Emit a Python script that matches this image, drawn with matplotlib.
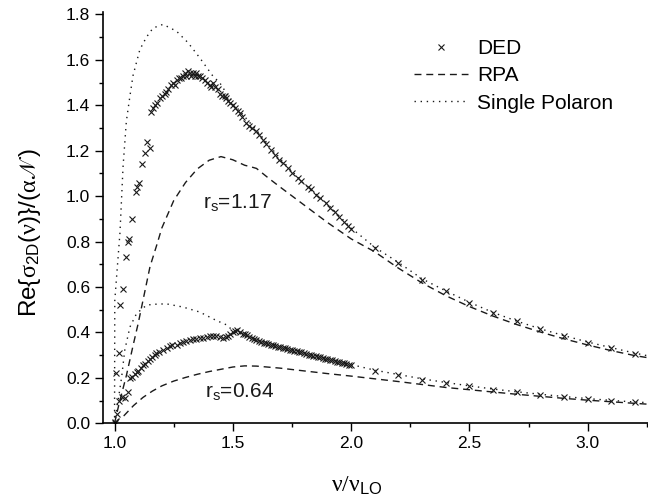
import matplotlib
matplotlib.use("Agg")
from matplotlib import pyplot as plt
from matplotlib.ticker import MultipleLocator
from matplotlib.lines import Line2D

plt.rcParams["font.family"] = ["Liberation Sans", "DejaVu Sans"]
# serif (Times-like) greek letters, sans for the rest, STIX as fallback for the script N
plt.rcParams["mathtext.fontset"] = "custom"
plt.rcParams["mathtext.rm"] = "Liberation Serif"
plt.rcParams["mathtext.it"] = "Liberation Serif:italic"
plt.rcParams["mathtext.bf"] = "Liberation Serif:bold"
plt.rcParams["mathtext.sf"] = "Liberation Sans"
plt.rcParams["mathtext.fallback"] = "stix"

# ---- DED, r_s = 1.17 ----
ded_hi_x = [1.000, 1.008, 1.018, 1.025, 1.036, 1.048, 1.057, 1.060, 1.072, 1.090, 1.095, 1.104,
            1.118, 1.128, 1.139, 1.149, 1.156, 1.163, 1.170, 1.180, 1.191, 1.200, 1.212, 1.219,
            1.226, 1.240, 1.247, 1.255, 1.262, 1.272, 1.283, 1.290, 1.297, 1.304, 1.311, 1.318,
            1.325, 1.332, 1.339, 1.346, 1.353, 1.360, 1.370, 1.381, 1.391, 1.402, 1.409, 1.416,
            1.426, 1.437, 1.447, 1.455, 1.465, 1.473, 1.480, 1.490, 1.500, 1.510, 1.520, 1.529,
            1.540, 1.557, 1.570, 1.580, 1.599, 1.610, 1.627, 1.640, 1.662, 1.680, 1.697, 1.710,
            1.733, 1.750, 1.775, 1.790, 1.817, 1.830, 1.852, 1.870, 1.895, 1.910, 1.930, 1.950,
            1.972, 1.985, 2.000, 2.100, 2.200, 2.300, 2.400, 2.500, 2.600, 2.700, 2.800, 2.900,
            3.000, 3.100, 3.200]
ded_hi_y = [0.00, 0.22, 0.31, 0.52, 0.59, 0.73, 0.80, 0.81, 0.90, 1.02, 1.04, 1.06,
            1.14, 1.19, 1.24, 1.21, 1.37, 1.39, 1.40, 1.41, 1.43, 1.44, 1.45, 1.46,
            1.47, 1.49, 1.50, 1.49, 1.51, 1.52, 1.52, 1.53, 1.54, 1.53, 1.55, 1.54,
            1.53, 1.54, 1.53, 1.54, 1.53, 1.53, 1.52, 1.51, 1.50, 1.49, 1.48, 1.50,
            1.48, 1.47, 1.45, 1.44, 1.44, 1.43, 1.42, 1.41, 1.40, 1.39, 1.375, 1.366,
            1.35, 1.322, 1.31, 1.30, 1.285, 1.27, 1.248, 1.23, 1.204, 1.18, 1.16, 1.145,
            1.123, 1.10, 1.079, 1.065, 1.042, 1.03, 1.005, 0.99, 0.969, 0.95, 0.932, 0.91,
            0.887, 0.87, 0.854, 0.770, 0.706, 0.630, 0.581, 0.531, 0.486, 0.449, 0.414, 0.384,
            0.355, 0.331, 0.306]

# ---- DED, r_s = 0.64 ----
ded_lo_x = [1.000, 1.011, 1.018, 1.030, 1.043, 1.057, 1.065, 1.075, 1.085, 1.093, 1.100, 1.110,
            1.121, 1.130, 1.140, 1.149, 1.160, 1.170, 1.177, 1.190, 1.205, 1.220, 1.233, 1.245,
            1.262, 1.275, 1.289, 1.300, 1.318, 1.330, 1.346, 1.360, 1.374, 1.390, 1.402, 1.415,
            1.430, 1.445, 1.458, 1.470, 1.479, 1.490, 1.500, 1.510, 1.517, 1.530, 1.543,
            1.55, 1.56, 1.57, 1.58, 1.59, 1.60, 1.61, 1.62, 1.63, 1.64, 1.65, 1.66, 1.67, 1.68,
            1.69, 1.70, 1.71, 1.72, 1.73, 1.74, 1.75, 1.76, 1.77, 1.78, 1.79, 1.80, 1.81, 1.82,
            1.83, 1.84, 1.85, 1.86, 1.87, 1.88, 1.89, 1.90, 1.91, 1.92, 1.93, 1.94, 1.95, 1.96,
            1.97, 1.98, 1.99, 2.00,
            2.10, 2.20, 2.30, 2.40, 2.50, 2.60, 2.70, 2.80, 2.90, 3.00, 3.10, 3.20]
ded_lo_y = [0.004, 0.041, 0.100, 0.118, 0.112, 0.137, 0.200, 0.205, 0.218, 0.225, 0.230, 0.243,
            0.255, 0.262, 0.275, 0.284, 0.292, 0.303, 0.309, 0.316, 0.324, 0.333, 0.340, 0.345,
            0.343, 0.352, 0.358, 0.362, 0.368, 0.371, 0.373, 0.376, 0.377, 0.381, 0.383, 0.386,
            0.383, 0.381, 0.377, 0.380, 0.384, 0.394, 0.402, 0.407, 0.409, 0.403, 0.395,
            0.392, 0.387, 0.381, 0.376, 0.371, 0.367, 0.363, 0.359, 0.355, 0.352, 0.349, 0.346,
            0.343, 0.340, 0.337, 0.335, 0.332, 0.330, 0.327, 0.325, 0.322, 0.319, 0.317, 0.314,
            0.312, 0.309, 0.306, 0.303, 0.301, 0.298, 0.295, 0.293, 0.290, 0.288, 0.285, 0.282,
            0.280, 0.277, 0.274, 0.272, 0.269, 0.267, 0.264, 0.262, 0.259, 0.256,
            0.230, 0.214, 0.193, 0.178, 0.163, 0.147, 0.137, 0.125, 0.115, 0.108, 0.100, 0.093]

# ---- RPA ----
rpa_hi_x = [1.0, 1.02, 1.05, 1.08, 1.10, 1.12, 1.15, 1.18, 1.20, 1.25, 1.30, 1.35, 1.40, 1.45,
            1.50, 1.55, 1.58, 1.60, 1.65, 1.70, 1.80, 1.90, 2.00, 2.10, 2.20, 2.30, 2.40, 2.50,
            2.60, 2.70, 2.80, 2.90, 3.00, 3.10, 3.20, 3.26]
rpa_hi_y = [0.0, 0.09, 0.21, 0.35, 0.44, 0.54, 0.69, 0.79, 0.86, 0.98, 1.06, 1.12, 1.158, 1.174,
            1.16, 1.136, 1.128, 1.122, 1.08, 1.04, 0.962, 0.884, 0.812, 0.755, 0.683, 0.618, 0.562,
            0.514, 0.472, 0.435, 0.402, 0.372, 0.345, 0.320, 0.298, 0.288]

rpa_lo_x = [1.0, 1.02, 1.04, 1.08, 1.12, 1.16, 1.20, 1.25, 1.30, 1.35, 1.40, 1.45, 1.50, 1.55,
            1.60, 1.70, 1.80, 1.90, 2.00, 2.10, 2.20, 2.30, 2.40, 2.50, 2.60, 2.70, 2.80, 2.90,
            3.00, 3.10, 3.20, 3.26]
rpa_lo_y = [0.0, 0.02, 0.034, 0.078, 0.114, 0.142, 0.165, 0.186, 0.202, 0.216, 0.228, 0.238,
            0.248, 0.253, 0.252, 0.243, 0.231, 0.219, 0.208, 0.196, 0.184, 0.171, 0.158, 0.148,
            0.138, 0.128, 0.119, 0.110, 0.102, 0.095, 0.088, 0.084]

# ---- Single polaron ----
sp_hi_x = [1.0, 1.001, 1.023, 1.036, 1.05, 1.065, 1.078, 1.107, 1.135, 1.163, 1.205, 1.262,
           1.311, 1.36, 1.416, 1.444, 1.50, 1.60, 1.70, 1.80, 1.90, 2.00, 2.10, 2.20, 2.30,
           2.40, 2.50, 2.60, 2.70, 2.80, 2.90, 3.00, 3.10, 3.20, 3.26]
sp_hi_y = [0.0, 0.54, 0.84, 1.13, 1.33, 1.44, 1.53, 1.645, 1.70, 1.74, 1.756, 1.726,
           1.675, 1.609, 1.528, 1.50, 1.41, 1.29, 1.165, 1.055, 0.965, 0.86, 0.775, 0.708, 0.636,
           0.583, 0.533, 0.488, 0.450, 0.416, 0.386, 0.358, 0.333, 0.309, 0.296]

sp_lo_x = [1.0, 1.015, 1.03, 1.043, 1.065, 1.093, 1.135, 1.163, 1.219, 1.289, 1.36, 1.43,
           1.479, 1.50, 1.60, 1.70, 1.80, 1.90, 2.00, 2.10, 2.20, 2.30, 2.40, 2.50, 2.60,
           2.70, 2.80, 2.90, 3.00, 3.10, 3.20, 3.26]
sp_lo_y = [0.0, 0.10, 0.203, 0.321, 0.424, 0.483, 0.52, 0.524, 0.526, 0.512, 0.49, 0.453,
           0.431, 0.405, 0.372, 0.340, 0.311, 0.285, 0.259, 0.234, 0.215, 0.196, 0.180, 0.165,
           0.151, 0.139, 0.128, 0.118, 0.109, 0.101, 0.094, 0.091]

ink = "#1a1a1a"
dash = (0, (5, 3.5))
dot = (0, (1, 3.4))

fig = plt.figure(figsize=(6.48, 5.04), dpi=100)
ax = fig.add_axes([0.1585, 0.16, 0.8415, 0.816])

ax.plot(sp_hi_x, sp_hi_y, color=ink, lw=1.0, linestyle=dot)
ax.plot(sp_lo_x, sp_lo_y, color=ink, lw=1.0, linestyle=dot)
ax.plot(rpa_hi_x, rpa_hi_y, color=ink, lw=1.0, linestyle=dash)
ax.plot(rpa_lo_x, rpa_lo_y, color=ink, lw=1.0, linestyle=dash)
ax.plot(ded_hi_x, ded_hi_y, "x", color=ink, ms=4, mew=0.8)
ax.plot(ded_lo_x, ded_lo_y, "x", color=ink, ms=4, mew=0.8)

ax.text(1.373, 0.948, r"r$_{\mathregular{s}}$=1.17", fontsize=15, color=ink)
ax.text(1.381, 0.115, r"r$_{\mathregular{s}}$=0.64", fontsize=15, color=ink)

ax.set_xlim(0.95, 3.255)
ax.set_ylim(0, 1.81)
ax.xaxis.set_major_locator(MultipleLocator(0.5))
ax.xaxis.set_minor_locator(MultipleLocator(0.25))
ax.yaxis.set_major_locator(MultipleLocator(0.2))
ax.yaxis.set_minor_locator(MultipleLocator(0.1))
ax.tick_params(which="major", direction="out", length=6, width=1, labelsize=12.5, pad=3)
ax.tick_params(which="minor", direction="out", length=3, width=1)
ax.spines["top"].set_visible(False)
ax.spines["right"].set_visible(False)
ax.spines["left"].set_linewidth(1.2)
ax.spines["bottom"].set_linewidth(1.2)

ax.set_xlabel(r"$\mathrm{ν/ν}_{\mathregular{LO}}$", fontsize=17, va="top")
ax.xaxis.set_label_coords(0.466, -0.125)
ax.set_ylabel(r"Re$\mathregular{\{}\mathrm{σ}_{\mathregular{2D}}\mathregular{(}\mathrm{ν}"
              r"\mathregular{)\}/(}\mathrm{α𝒩}\mathregular{)}$", fontsize=17.5)
ax.yaxis.set_label_coords(-0.11, 0.465)

handles = [
    Line2D([], [], marker="x", linestyle="none", color=ink, ms=4, mew=0.8),
    Line2D([], [], color=ink, lw=1.0, linestyle=dash),
    Line2D([], [], color=ink, lw=1.0, linestyle=dot),
]
ax.legend(handles, ["DED", "RPA", "Single Polaron"], loc="upper left",
          bbox_to_anchor=(0.555, 0.955), frameon=False, fontsize=15,
          handlelength=2.6, handletextpad=0.45, labelspacing=0.4, borderaxespad=0)

fig.savefig("out.png", dpi=100)
